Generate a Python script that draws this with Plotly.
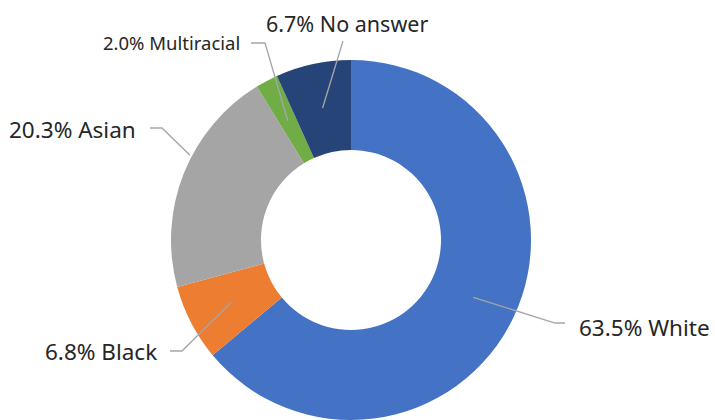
import math
import plotly.graph_objects as go

# ---- data ----
categories = ["White", "Black", "Asian", "Multiracial", "No answer"]
values = [63.5, 6.8, 20.3, 2.0, 6.7]
label_texts = ["63.5% White", "6.8% Black", "20.3% Asian", "2.0% Multiracial", "6.7% No answer"]

# ---- style ----
colors = ["#4472C4", "#ED7D31", "#A5A5A5", "#70AD47", "#264478"]
W, H = 715, 420
CX, CY, R = 351, 240, 180
HOLE = 0.5
FONT = "Noto Sans"
TEXT_COLOR = "#262626"
LINE_COLOR = "#A6A6A6"

# per label: leader start (angle offset deg, radius px), leader bend points (px),
# text anchor point (px), xanchor, font size
label_layout = {
    "White":       dict(dth=0.0, r=135, bend=[(555, 323), (565, 323)], txt=(577, 327), xa="left", size=22.5),
    "Black":       dict(dth=0.0, r=135, bend=[(182, 351), (170, 351)], txt=(159, 351), xa="right", size=22.5),
    "Asian":       dict(dth=6.1, r=182, bend=[(162, 128), (150, 128)], txt=(138, 129), xa="right", size=22.5),
    "Multiracial": dict(dth=0.0, r=135, bend=[(265, 43), (251, 43)], txt=(242, 43), xa="right", size=18.5),
    "No answer":   dict(dth=0.0, r=135, bend=[(343, 41)], txt=(347, 23), xa="center", size=21.5),
}

def px2paper(x, y):
    return x / W, 1 - y / H

fig = go.Figure()
fig.add_trace(go.Pie(
    labels=categories,
    values=values,
    hole=HOLE,
    sort=False,
    direction="clockwise",
    rotation=0,
    textinfo="none",
    marker=dict(colors=colors, line=dict(width=0)),
    domain=dict(x=[(CX - R) / W, (CX + R) / W], y=[1 - (CY + R) / H, 1 - (CY - R) / H]),
    showlegend=False,
    hoverinfo="label+percent",
))

total = sum(values)
cum = 0.0
shapes = []
annotations = []
for cat, val, txt in zip(categories, values, label_texts):
    mid = (cum + val / 2) / total * 360.0
    cum += val
    lay = label_layout[cat]
    ang = math.radians(mid + lay["dth"])
    sx = CX + lay["r"] * math.sin(ang)
    sy = CY - lay["r"] * math.cos(ang)
    pts = [(sx, sy)] + lay["bend"]
    path = ""
    for i, (x, y) in enumerate(pts):
        xp, yp = px2paper(x, y)
        path += ("M" if i == 0 else " L") + f" {xp:.5f} {yp:.5f}"
    shapes.append(dict(type="path", path=path, xref="paper", yref="paper",
                       line=dict(color=LINE_COLOR, width=1.3)))
    tx, ty = px2paper(*lay["txt"])
    annotations.append(dict(text=txt, x=tx, y=ty, xref="paper", yref="paper",
                            xanchor=lay["xa"], yanchor="middle", showarrow=False,
                            font=dict(family=FONT, size=lay["size"], color=TEXT_COLOR)))

fig.update_layout(
    width=W, height=H,
    margin=dict(l=0, r=0, t=0, b=0),
    paper_bgcolor="white",
    plot_bgcolor="white",
    shapes=shapes,
    annotations=annotations,
)

fig.write_html("out.html",
               config={"displayModeBar": False},
               post_script="document.body.style.margin='0';document.body.style.overflow='hidden';")
